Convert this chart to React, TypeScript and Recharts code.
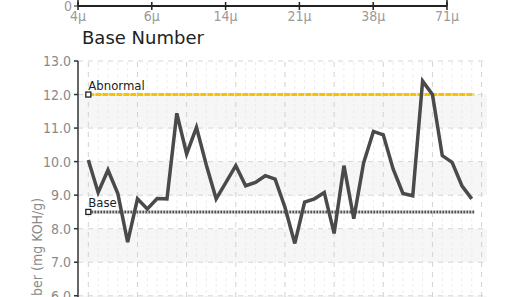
import React from "react";
import {
  LineChart,
  Line,
  XAxis,
  YAxis,
  ReferenceLine,
  ReferenceArea,
  ReferenceDot,
  Label,
} from "recharts";

// base number readings, one per sample
const baseNumber = [
  10.05, 9.08, 9.75, 9.05, 7.6, 8.89, 8.59, 8.9, 8.89, 11.44,
  10.23, 11.02, 9.9, 8.89, 9.38, 9.88, 9.28, 9.38, 9.58, 9.48,
  8.64, 7.56, 8.79, 8.89, 9.08, 7.86, 9.88, 8.3, 9.96, 10.9,
  10.8, 9.78, 9.05, 8.98, 12.4, 12.0, 10.18, 9.98, 9.28, 8.89,
];

// particle size labels on the chart above (cut off)
const particleLabels = ["4μ", "6μ", "14μ", "21μ", "38μ", "71μ"];

const yTicks = [0, 1, 2, 3, 4, 5, 6, 7, 8, 9, 10, 11, 12, 13];
const bandRows = [5, 7, 9, 11];
const majorX = [0, 5, 10, 15, 20, 25, 30, 35, 40];
const minorX = Array.from({ length: 41 }, (_, i) => i).filter((i) => i % 5 !== 0);

const abnormalLimit = 12.0;
const baseLimit = 8.5;

const narrow = "'Liberation Sans Narrow', 'DejaVu Sans Condensed', Arial, sans-serif";

const rows = baseNumber.map((v, i) => ({ i, v }));
const topRows = particleLabels.map((_, i) => ({ i }));

function TopTick({ x, y, payload }: any) {
  return (
    <g>
      <line x1={x} x2={x} y1={y - 4} y2={y + 4} stroke="#222" strokeWidth={1.5} />
      <text x={x} y={y + 15} textAnchor="middle" fontSize={14} fill="#9a9a9a" fontFamily={narrow}>
        {particleLabels[payload.value]}
      </text>
    </g>
  );
}

function Square(props: any) {
  const { cx, cy } = props;
  return <rect x={cx - 2.5} y={cy - 2.5} width={5} height={5} fill="#fff" stroke="#222" strokeWidth={1.3} />;
}

function LimitLabel({ viewBox, value }: any) {
  const x = (viewBox?.x ?? 0) + (viewBox?.width ?? 0) / 2;
  const y = (viewBox?.y ?? 0) + (viewBox?.height ?? 0) / 2;
  return (
    <text
      x={x}
      y={y - 5}
      fontSize={13}
      fill="#222"
      fontFamily={narrow}
      stroke="#fff"
      strokeWidth={2}
      paintOrder="stroke"
    >
      {value}
    </text>
  );
}

function AxisTitle({ viewBox }: any) {
  const cx = (viewBox?.x ?? 0) + 42;
  const cy = (viewBox?.y ?? 0) + (viewBox?.height ?? 0) / 2;
  return (
    <text
      x={cx}
      y={cy}
      transform={`rotate(-90, ${cx}, ${cy})`}
      textAnchor="middle"
      fontSize={14}
      fill="#8a8a8a"
      fontFamily={narrow}
    >
      Base Number (mg KOH/g)
    </text>
  );
}

export default function App() {
  return (
    <div
      style={{
        position: "fixed",
        left: 0,
        top: 0,
        width: 508,
        height: 297,
        overflow: "hidden",
        background: "#fff",
      }}
    >
      {/* bottom of the particle count chart above */}
      <div style={{ position: "absolute", left: 0, top: -60 }}>
        <LineChart width={508} height={90} data={topRows} margin={{ top: 0, right: 0, bottom: 0, left: 0 }}>
          <XAxis
            dataKey="i"
            type="number"
            domain={[0, 5]}
            ticks={[0, 1, 2, 3, 4, 5]}
            height={24}
            tickSize={0}
            tickMargin={0}
            tick={<TopTick />}
            axisLine={{ stroke: "#222", strokeWidth: 2 }}
          />
          <YAxis
            yAxisId="l"
            width={78}
            domain={[0, 10]}
            ticks={[0]}
            tickSize={4}
            axisLine={{ stroke: "#222", strokeWidth: 1.5 }}
            tickLine={{ stroke: "#222" }}
            tick={{ fontSize: 14, fill: "#9a9a9a", fontFamily: narrow }}
          />
          <YAxis
            yAxisId="r"
            orientation="right"
            width={61}
            domain={[0, 6]}
            reversed
            ticks={[6]}
            tickSize={4}
            axisLine={{ stroke: "#222", strokeWidth: 1.5 }}
            tickLine={{ stroke: "#222" }}
            tick={{ fontSize: 14, fill: "#9a9a9a", fontFamily: narrow }}
          />
          <Line yAxisId="l" dataKey="i" stroke="none" dot={false} isAnimationActive={false} />
        </LineChart>
      </div>

      <div
        style={{
          position: "absolute",
          left: 82,
          top: 27,
          fontFamily: "'DejaVu Sans', sans-serif",
          fontSize: 18,
          color: "#222",
          lineHeight: "22px",
        }}
      >
        Base Number
      </div>

      <div style={{ position: "absolute", left: 0, top: 50 }}>
        <LineChart width={508} height={452} data={rows} margin={{ top: 11, right: 21, bottom: 5, left: 0 }}>
          <XAxis dataKey="i" type="number" domain={[-1.05, 40.55]} hide />
          <YAxis
            width={78}
            domain={[0, 13]}
            ticks={yTicks}
            tickFormatter={(v: number) => v.toFixed(1)}
            tickSize={4}
            tickMargin={3}
            axisLine={{ stroke: "#333", strokeWidth: 1.5 }}
            tickLine={{ stroke: "#333", strokeWidth: 1.5 }}
            tick={{ fontSize: 14, fill: "#8a8a8a", fontFamily: narrow }}
          >
            <Label content={<AxisTitle />} />
          </YAxis>

          {bandRows.map((b) => (
            <ReferenceArea key={`band-${b}`} y1={b} y2={b + 1} fill="#f6f6f6" fillOpacity={1} stroke="none" />
          ))}
          {minorX.map((x) => (
            <ReferenceLine key={`mx-${x}`} x={x} stroke="#ececec" strokeDasharray="3 3" />
          ))}
          {majorX.map((x) => (
            <ReferenceLine key={`Mx-${x}`} x={x} stroke="#d2d2d2" strokeDasharray="5 5" />
          ))}
          {yTicks.map((y) => (
            <ReferenceLine key={`y-${y}`} y={y} stroke="#d6d6d6" strokeDasharray="5 5" />
          ))}

          <ReferenceLine
            segment={[
              { x: 0, y: abnormalLimit },
              { x: 39.25, y: abnormalLimit },
            ]}
            stroke="#f7c300"
            strokeWidth={3}
            strokeDasharray="6 1"
          />
          <ReferenceLine
            segment={[
              { x: 0, y: baseLimit },
              { x: 39.25, y: baseLimit },
            ]}
            stroke="#555"
            strokeWidth={3}
            strokeDasharray="2 1"
          />

          <Line
            dataKey="v"
            stroke="#4a4a4a"
            strokeWidth={3.5}
            dot={false}
            strokeLinejoin="miter"
            isAnimationActive={false}
          />

          <ReferenceDot x={0} y={abnormalLimit} shape={<Square />}>
            <Label value="Abnormal" content={<LimitLabel value="Abnormal" />} />
          </ReferenceDot>
          <ReferenceDot x={0} y={baseLimit} shape={<Square />}>
            <Label value="Base" content={<LimitLabel value="Base" />} />
          </ReferenceDot>
        </LineChart>
      </div>
    </div>
  );
}
